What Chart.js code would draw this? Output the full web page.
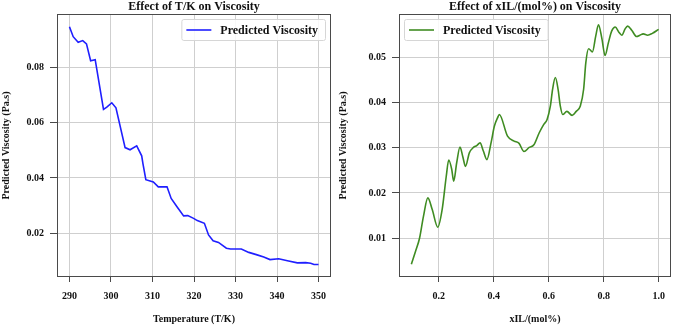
<!DOCTYPE html>
<html>
<head>
<meta charset="utf-8">
<script src="https://cdn.jsdelivr.net/npm/chart.js@4.4.1/dist/chart.umd.min.js"></script>
<style>
  html, body { margin: 0; padding: 0; background: #fff; }
  #wrap { position: relative; width: 675px; height: 326px; }
  .box { position: absolute; top: 0; height: 326px; }
</style>
</head>
<body>
<div id="wrap">
  <div class="box" style="left:0;width:337px"><canvas id="tempChart"></canvas></div>
  <div class="box" style="left:337px;width:338px"><canvas id="xilChart"></canvas></div>
</div>
<script>
// left panel: temperature vs viscosity
const tempK = [290, 290.9, 292.1, 293.2, 294.1, 295.1, 296.2, 298.2, 299.0, 300.2, 301.2, 303.4, 304.6, 306.2, 307.4, 307.7, 308.4, 310.2, 311.4, 313.5, 314.5, 315.9, 317.5, 318.5, 319.9, 320.8, 322.5, 323.5, 324.6, 325.9, 327.8, 328.8, 331.4, 333.2, 335.2, 336.8, 338.3, 340.4, 342.5, 344.9, 346.9, 348.1, 348.9, 350];
const viscT = [0.0947, 0.0911, 0.0891, 0.0897, 0.0885, 0.0824, 0.0828, 0.0648, 0.0656, 0.0672, 0.0654, 0.0510, 0.0502, 0.0516, 0.0480, 0.0452, 0.0394, 0.0386, 0.0368, 0.0368, 0.0326, 0.0296, 0.0263, 0.0264, 0.0254, 0.0246, 0.0236, 0.0194, 0.0173, 0.0167, 0.0146, 0.0143, 0.0143, 0.0131, 0.0122, 0.0114, 0.0105, 0.0108, 0.0101, 0.0093, 0.0094, 0.0092, 0.0087, 0.0087];
const tempTicks = [290, 300, 310, 320, 330, 340, 350];
const viscTTicks = [0.02, 0.04, 0.06, 0.08];

// right panel: xIL vs viscosity
const xIL = [0.100, 0.115, 0.130, 0.144, 0.160, 0.176, 0.196, 0.212, 0.227, 0.236, 0.247, 0.254, 0.265, 0.277, 0.287, 0.297, 0.311, 0.326, 0.338, 0.350, 0.362, 0.375, 0.390, 0.402, 0.414, 0.420, 0.450, 0.474, 0.492, 0.510, 0.529, 0.546, 0.565, 0.582, 0.594, 0.606, 0.614, 0.624, 0.634, 0.642, 0.651, 0.666, 0.685, 0.700, 0.715, 0.727, 0.735, 0.745, 0.759, 0.771, 0.781, 0.793, 0.805, 0.817, 0.829, 0.842, 0.856, 0.866, 0.878, 0.887, 0.902, 0.920, 0.932, 0.944, 0.960, 0.977, 1.000];
const viscX = [0.0042, 0.0070, 0.0100, 0.0148, 0.0189, 0.0163, 0.0124, 0.0163, 0.0237, 0.0273, 0.0252, 0.0226, 0.0267, 0.0302, 0.0281, 0.0259, 0.0289, 0.0301, 0.0305, 0.0311, 0.0293, 0.0274, 0.0311, 0.0348, 0.0367, 0.0374, 0.0326, 0.0315, 0.0310, 0.0292, 0.0301, 0.0307, 0.0333, 0.0352, 0.0363, 0.0393, 0.0430, 0.0456, 0.0430, 0.0393, 0.0374, 0.0381, 0.0372, 0.0381, 0.0393, 0.0430, 0.0489, 0.0520, 0.0513, 0.0548, 0.0573, 0.0544, 0.0505, 0.0533, 0.0559, 0.0568, 0.0556, 0.0550, 0.0564, 0.0570, 0.0561, 0.0547, 0.0550, 0.0553, 0.0550, 0.0554, 0.0563];
const xilTicks = [0.2, 0.4, 0.6, 0.8, 1.0];
const viscXTicks = [0.01, 0.02, 0.03, 0.04, 0.05];

const serif = '"Liberation Serif", "Times New Roman", serif';

// frame round the plot area
const frame = {
  id: 'frame',
  afterDraw(chart) {
    const { ctx, chartArea: a } = chart;
    ctx.save();
    ctx.strokeStyle = '#4a4a4a';
    ctx.lineWidth = 1;
    ctx.strokeRect(a.left + 0.5, a.top + 0.5, a.width - 1, a.height - 1);
    ctx.restore();
  }
};

// matplotlib style legend box inside the plot
const boxLegend = {
  id: 'boxLegend',
  afterDatasetsDraw(chart, args, opts) {
    const { ctx, chartArea: a } = chart;
    const ds = chart.data.datasets[0];
    ctx.save();
    ctx.font = 'bold 12px ' + serif;
    const tw = ctx.measureText(ds.label).width;
    const w = tw + 46, h = 21;
    const x = opts.side === 'right' ? a.right - 6 - w : a.left + 5;
    const y = a.top + 5;
    ctx.beginPath();
    ctx.roundRect(x + 0.5, y + 0.5, w, h, 2);
    ctx.fillStyle = 'rgba(255,255,255,0.85)';
    ctx.fill();
    ctx.strokeStyle = '#d6d6d6';
    ctx.lineWidth = 1;
    ctx.stroke();
    ctx.beginPath();
    ctx.moveTo(x + 5, y + h / 2 + 0.5);
    ctx.lineTo(x + 30, y + h / 2 + 0.5);
    ctx.strokeStyle = ds.borderColor;
    ctx.lineWidth = 1.6;
    ctx.stroke();
    ctx.fillStyle = '#111';
    ctx.textBaseline = 'middle';
    ctx.fillText(ds.label, x + 39, y + h / 2 + 1);
    ctx.restore();
  }
};

function makeChart(id, xs, ys, color, opt) {
  const ctx = document.getElementById(id).getContext('2d');
  return new Chart(ctx, {
    type: 'line',
    data: {
      datasets: [{
        label: 'Predicted Viscosity',
        data: xs.map((x, i) => ({ x: x, y: ys[i] })),
        borderColor: color,
        borderWidth: 1.6,
        pointRadius: 0,
        fill: false,
        tension: opt.smooth ? 0.4 : 0,
        cubicInterpolationMode: opt.smooth ? 'monotone' : 'default'
      }]
    },
    options: {
      responsive: true,
      maintainAspectRatio: false,
      animation: false,
      layout: { padding: { left: 0, right: opt.padRight, top: 0, bottom: 0 } },
      plugins: {
        legend: { display: false },
        tooltip: { enabled: false },
        title: {
          display: true,
          text: opt.title,
          fullSize: false,
          color: '#111',
          font: { family: serif, size: 12, weight: 'bold', lineHeight: 1 },
          padding: { top: 1, bottom: 1 }
        },
        boxLegend: { side: opt.legendSide }
      },
      scales: {
        x: {
          type: 'linear',
          min: opt.xMin,
          max: opt.xMax,
          afterBuildTicks: s => { s.ticks = opt.xTicks.map(v => ({ value: v })); },
          afterFit: s => { s.height = 49; },
          ticks: {
            color: '#111',
            padding: 8,
            font: { family: serif, size: 10, weight: 'bold' },
            callback: v => opt.xFmt(v)
          },
          grid: { color: '#cfcfcf', lineWidth: 1, tickLength: 5, tickColor: '#4a4a4a' },
          border: { display: false },
          title: {
            display: true,
            text: opt.xTitle,
            color: '#111',
            font: { family: serif, size: 10, weight: 'bold' },
            padding: { top: 4, bottom: 1 }
          }
        },
        y: {
          min: opt.yMin,
          max: opt.yMax,
          afterBuildTicks: s => { s.ticks = opt.yTicks.map(v => ({ value: v })); },
          afterFit: s => { s.width = opt.yWidth; },
          ticks: {
            color: '#111',
            padding: 6,
            font: { family: serif, size: 10, weight: 'bold' },
            callback: v => v.toFixed(2)
          },
          grid: { color: '#cfcfcf', lineWidth: 1, tickLength: 7, tickColor: '#4a4a4a' },
          border: { display: false },
          title: {
            display: true,
            text: 'Predicted Viscosity (Pa.s)',
            color: '#111',
            font: { family: serif, size: 10, weight: 'bold' },
            padding: { top: 0, bottom: 0 }
          }
        }
      }
    },
    plugins: [frame, boxLegend]
  });
}

makeChart('tempChart', tempK, viscT, '#1f1fff', {
  title: 'Effect of T/K on Viscosity',
  xTitle: 'Temperature (T/K)',
  xMin: 287, xMax: 353, xTicks: tempTicks, xFmt: v => String(v),
  yMin: 0.0042, yMax: 0.0993, yTicks: viscTTicks,
  yWidth: 57, padRight: 6, legendSide: 'right', smooth: false
});

makeChart('xilChart', xIL, viscX, '#3f8c22', {
  title: 'Effect of xIL/(mol%) on Viscosity',
  xTitle: 'xIL/(mol%)',
  xMin: 0.055, xMax: 1.045, xTicks: xilTicks, xFmt: v => v.toFixed(1),
  yMin: 0.00135, yMax: 0.0597, yTicks: viscXTicks,
  yWidth: 62, padRight: 4, legendSide: 'left', smooth: true
});
</script>
</body>
</html>
